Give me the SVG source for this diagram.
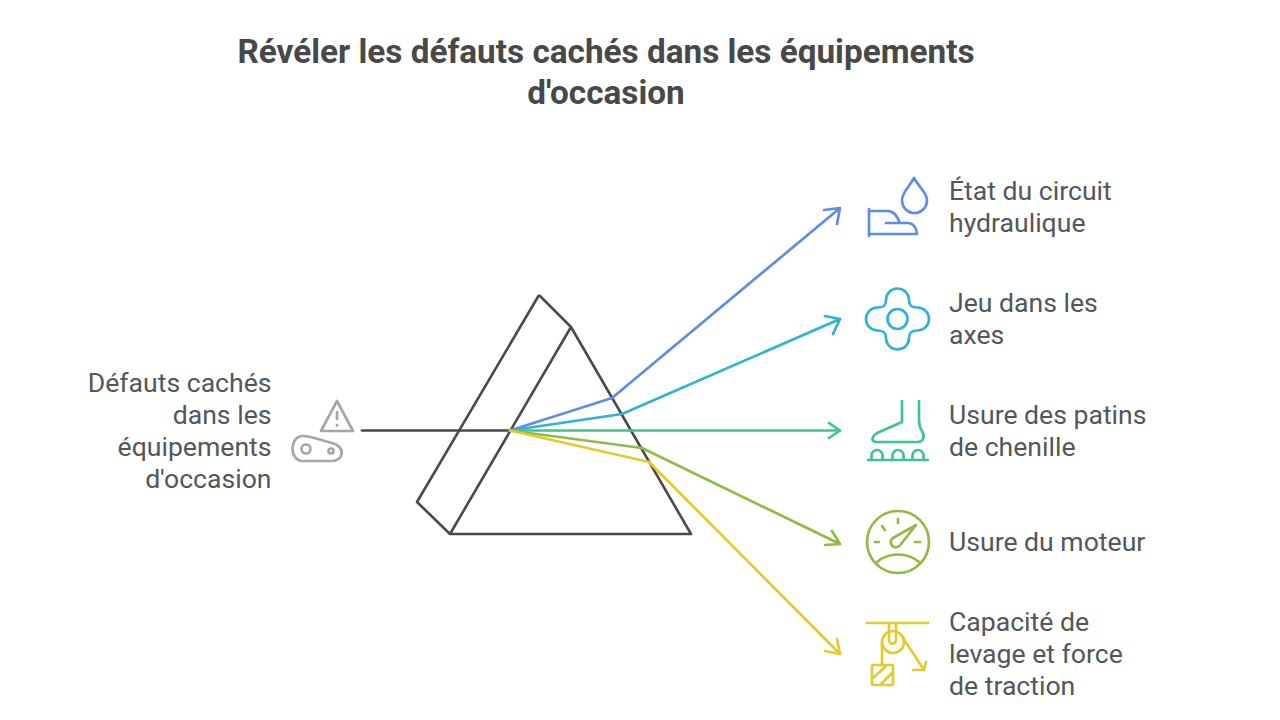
<svg xmlns="http://www.w3.org/2000/svg" width="1280" height="720" viewBox="0 0 1280 720">
<style>
text{font-family:Roboto,"Liberation Sans",sans-serif;fill:#53565a;font-size:26.6px}
.t{font-size:33.3px;font-weight:700;fill:#484848;text-anchor:middle}
.e{text-anchor:end}
.l,.i path,.i circle,.i rect{fill:none;stroke-width:2.7;stroke-linecap:round;stroke-linejoin:round}
.a{stroke:#5f8de6}.b{stroke:#2fb2d9}.c{stroke:#3fc48d}.d{stroke:#93b946}.f{stroke:#e3cb2e}.g{stroke:#a6a6a6}
</style>
<rect width="1280" height="720" fill="#fff"/>
<g id="title"><text class="t" x="606" y="63">Révéler les défauts cachés dans les équipements</text><text class="t" x="606" y="104">d'occasion</text></g>
<g id="prism"><path d="M539 295L417 502L450 534H691L571 327L539 295M571 327L450 534" fill="none" stroke="#4a4a4a" stroke-width="2.6" stroke-linejoin="round"/></g>
<g id="connectors">
<path class="l" d="M362 430.500H510" stroke="#4a4a4a"/>
<path class="l a" d="M510 430.500L612 398L840 208M824 210L840 208L837 224"/>
<path class="l b" d="M510 430.500L622 414L840 319M825 316L840 319L833 334"/>
<path class="l c" d="M510 430.500H840M829 423L840 430.500L829 438"/>
<path class="l d" d="M510 430.500L642 448L840 544M832 531L840 544L825 545"/>
<path class="l f" d="M510 430.500L649 462L840 654M837 639L840 654L825 651"/>
</g>
<g id="source"><text class="e" x="271.500" y="392">Défauts cachés</text><text class="e" x="271.500" y="424">dans les</text><text class="e" x="271.500" y="456">équipements</text><text class="e" x="271.500" y="488">d'occasion</text>
<g class="i"><path class="g" d="M337 401L353 431H321Z"/><path class="g" d="M337 412V419M337 425V425.500"/><path class="g" d="M303 436C311 436 316 439 332 443C346 446 344 461 332 461H303C289 461 289 436 303 436Z"/><circle class="g" cx="306" cy="449" r="4.500"/><circle class="g" cx="331" cy="451" r="2.500"/></g></g>
<g id="n1"><text x="949" y="200">État du circuit</text><text x="949" y="232">hydraulique</text>
<g class="i"><path class="a" d="M914 178C909 187 902 193 902 200C902 208 908 213 914.500 213C921 213 927 208 927 200C927 193 919 187 914 178Z"/><path class="a" d="M869 209V236M869 211H888C894 211 897 216 900 223H886M900 223H908C913 223 917 228 917 234H869"/></g></g>
<g id="n2"><text x="949" y="312">Jeu dans les</text><text x="949" y="344">axes</text>
<g class="i"><path class="b" d="M886 300A11.500 11.500 0 0 1 909 300C909 305 911 307.500 917.500 307.500A11.500 11.500 0 0 1 917.500 330.500C911 330.500 909 333 909 338A11.500 11.500 0 0 1 886 338C886 333 884 330.500 877.500 330.500A11.500 11.500 0 0 1 877.500 307.500C884 307.500 886 305 886 300Z"/><circle class="b" cx="897.500" cy="319" r="10"/></g></g>
<g id="n3"><text x="949" y="424">Usure des patins</text><text x="949" y="456">de chenille</text>
<g class="i"><path class="c" d="M902 401V422L877 433C871 437 871 442 877 442H917C924 442 925 436 922 431C920 428 919 426 919 420V401"/><path class="c" d="M868 460H928M871.500 460V455.500A5.500 5.500 0 0 1 882.500 455.500V460M892.500 460V455.500A5.500 5.500 0 0 1 903.500 455.500V460M912.500 460V455.500A5.500 5.500 0 0 1 923.500 455.500V460"/></g></g>
<g id="n4"><text x="949" y="551">Usure du moteur</text>
<g class="i"><circle class="d" cx="898" cy="542" r="31"/><path class="d" d="M877 562C889 552 907 552 919 562M898 519V523M882 526L885 530M875 542H879M915 542H920"/><path class="d" d="M916 525L893 538C889 541 891 546 894 547C897 548 900 546 901 544Z"/></g></g>
<g id="n5"><text x="949" y="631">Capacité de</text><text x="949" y="663">levage et force</text><text x="949" y="695">de traction</text>
<g class="i"><path class="f" d="M867 623H928M889 624V640C889 645 896 645 896 640V624"/><circle class="f" cx="893" cy="642" r="11"/><path class="f" d="M882 643V665M903 638L924 670M913 670H924L926 662"/><rect class="f" x="872" y="665" width="21" height="20" rx="1"/><path class="f" d="M873 678L885 667M880 685L892 673"/></g></g>
</svg>
